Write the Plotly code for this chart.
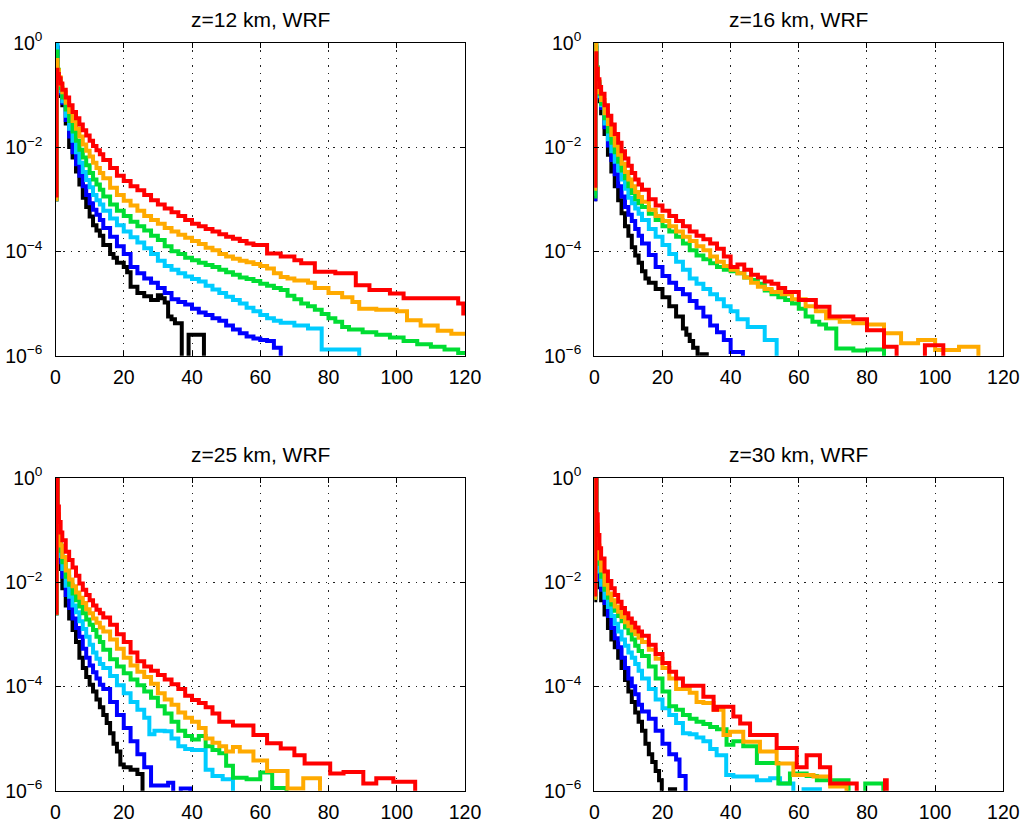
import plotly.graph_objects as go

# ---------------- data (x = left bin edge, value = log10 of probability; None = empty bin)
TITLES = ["z=12 km, WRF", "z=16 km, WRF", "z=25 km, WRF", "z=30 km, WRF"]
SERIES_NAMES = ["black", "blue", "cyan", "green", "orange", "red"]
SERIES_COLORS = ["#000000", "#0000FF", "#00CCFF", "#00DD33", "#FFAA00", "#FF0000"]
X_TICKS = [0, 20, 40, 60, 80, 100, 120]
Y_TICKS = [1e-6, 1e-4, 1e-2, 1]
Y_TICK_TEXT = ["10<sup>\u22126</sup>", "10<sup>\u22124</sup>", "10<sup>\u22122</sup>", "10<sup>0</sup>"]

# ---- z = 12 km
Z12_BLACK = [(-1, -3.0), (0.3, -0.1), (0.6, -0.6), (1, -0.8), (1.5, -1.02), (2, -1.2), (3, -1.55), (4, -2.0),
             (5, -2.2), (6, -2.47), (7, -2.72), (8, -2.97), (9, -3.15), (10, -3.33), (11, -3.5), (12, -3.6),
             (13, -3.7), (14, -3.88), (16, -4.05), (17, -4.12), (18, -4.22), (20, -4.3), (21, -4.4), (22, -4.68),
             (24, -4.8), (26, -4.86), (28, -4.93), (30, -4.84), (31, -4.9), (32, -4.98), (33, -5.25), (34, -5.3),
             (35, -5.38), (37, None), (39, -5.6), (43.5, None)]
Z12_BLUE = [(-1, -3.0), (0.3, -0.08), (0.6, -0.58), (1, -0.77), (1.5, -0.97), (2, -1.15), (3, -1.48), (4, -1.8),
            (5, -2.1), (6, -2.33), (7, -2.55), (8, -2.75), (9, -2.92), (10, -3.08), (11, -3.2), (12, -3.3),
            (13, -3.4), (14, -3.55), (16, -3.72), (18, -3.9), (20, -4.05), (22, -4.3), (24, -4.42), (26, -4.52),
            (28, -4.6), (30, -4.7), (32, -4.8), (34, -4.92), (36, -4.97), (38, -5.02), (40, -5.1), (42, -5.17),
            (44, -5.22), (46, -5.28), (48, -5.33), (50, -5.42), (52, -5.5), (54, -5.57), (56, -5.63), (58, -5.67),
            (60, -5.7), (62, -5.72), (64, -5.85), (66, None)]
Z12_CYAN = [(-1, -3.0), (0.3, -0.02), (0.6, -0.55), (1, -0.74), (1.5, -0.93), (2, -1.12), (3, -1.4), (4, -1.65),
            (5, -1.88), (6, -2.1), (7, -2.3), (8, -2.48), (9, -2.63), (10, -2.77), (11, -2.92), (12, -3.02),
            (13, -3.1), (14, -3.22), (16, -3.37), (18, -3.5), (20, -3.62), (22, -3.73), (24, -3.83), (26, -3.94),
            (28, -4.05), (30, -4.18), (32, -4.28), (34, -4.35), (36, -4.42), (38, -4.48), (40, -4.53), (42, -4.58),
            (44, -4.66), (46, -4.73), (48, -4.8), (50, -4.87), (52, -4.93), (54, -5.0), (56, -5.08), (58, -5.15),
            (60, -5.22), (62, -5.28), (64, -5.33), (66, -5.37), (70, -5.42), (74, -5.48), (78, -5.88), (89, None)]
Z12_GREEN = [(-1, -3.0), (0.3, -0.17), (0.6, -0.52), (1, -0.7), (1.5, -0.87), (2, -1.05), (3, -1.28), (4, -1.5),
             (5, -1.7), (6, -1.88), (7, -2.05), (8, -2.2), (9, -2.35), (10, -2.5), (11, -2.62), (12, -2.72),
             (13, -2.82), (14, -2.95), (16, -3.1), (18, -3.22), (20, -3.32), (22, -3.43), (24, -3.52), (26, -3.6),
             (28, -3.7), (30, -3.78), (32, -3.9), (34, -4.0), (36, -4.05), (38, -4.12), (40, -4.17), (42, -4.22),
             (44, -4.26), (46, -4.3), (48, -4.35), (50, -4.4), (52, -4.45), (54, -4.5), (56, -4.53), (58, -4.57),
             (60, -4.62), (62, -4.66), (64, -4.7), (66, -4.74), (68, -4.85), (70, -4.92), (72, -5.0), (74, -5.05),
             (76, -5.12), (78, -5.2), (80, -5.28), (82, -5.35), (84, -5.45), (86, -5.5), (90, -5.55), (94, -5.6),
             (98, -5.65), (102, -5.72), (106, -5.78), (110, -5.83), (114, -5.88), (118, -5.95), (122, -5.95)]
Z12_ORANGE = [(-1, -3.0), (0.3, -0.33), (0.6, -0.53), (1, -0.66), (1.5, -0.8), (2, -0.95), (3, -1.15), (4, -1.33),
              (5, -1.5), (6, -1.65), (7, -1.8), (8, -1.95), (9, -2.07), (10, -2.18), (11, -2.3), (12, -2.4),
              (13, -2.5), (14, -2.6), (16, -2.78), (18, -2.92), (20, -3.03), (22, -3.12), (24, -3.22), (26, -3.32),
              (28, -3.4), (30, -3.47), (32, -3.55), (34, -3.62), (36, -3.68), (38, -3.74), (40, -3.8), (42, -3.86),
              (44, -3.93), (46, -3.98), (48, -4.05), (50, -4.1), (52, -4.14), (54, -4.18), (56, -4.21), (58, -4.24),
              (60, -4.28), (62, -4.33), (64, -4.42), (66, -4.49), (68, -4.52), (70, -4.56), (74, -4.6), (76, -4.7),
              (80, -4.8), (84, -4.88), (87, -4.97), (89, -5.1), (94, -5.12), (100, -5.15), (103, -5.32),
              (107, -5.42), (112, -5.52), (116, -5.58), (122, -5.58)]
Z12_RED = [(-1, -2.93), (0.3, -0.52), (0.6, -0.6), (1, -0.68), (1.5, -0.78), (2, -0.9), (3, -1.05), (4, -1.2),
           (5, -1.33), (6, -1.45), (7, -1.57), (8, -1.68), (9, -1.78), (10, -1.88), (11, -1.98), (12, -2.06),
           (13, -2.14), (14, -2.25), (16, -2.4), (18, -2.55), (20, -2.65), (22, -2.75), (24, -2.83), (26, -2.92),
           (28, -3.02), (30, -3.1), (32, -3.18), (34, -3.25), (36, -3.32), (38, -3.4), (40, -3.47), (42, -3.52),
           (44, -3.57), (46, -3.62), (48, -3.67), (50, -3.72), (52, -3.76), (54, -3.8), (56, -3.85), (58, -3.88),
           (62, -4.04), (66, -4.1), (70, -4.17), (72, -4.23), (76, -4.39), (82, -4.42), (88, -4.65), (92, -4.74),
           (98, -4.81), (102, -4.9), (118, -5.0), (119.5, -5.19), (122, -5.19)]

# ---- z = 16 km
Z16_BLACK = [(-1, -3.0), (0.3, -0.1), (0.6, -0.55), (1, -0.85), (1.5, -1.12), (2, -1.35), (3, -1.75), (4, -2.15),
             (5, -2.47), (6, -2.75), (7, -3.02), (8, -3.27), (9, -3.52), (10, -3.7), (11, -3.92), (12, -4.08),
             (13, -4.22), (14, -4.38), (15, -4.52), (16, -4.6), (18, -4.72), (20, -4.88), (22, -5.05), (24, -5.25),
             (26, -5.48), (27, -5.6), (28, -5.72), (29, -5.85), (30.3, None), (31.5, -5.97), (33, None)]
Z16_BLUE = [(-1, -3.0), (0.3, -0.08), (0.6, -0.5), (1, -0.8), (1.5, -1.05), (2, -1.25), (3, -1.62), (4, -1.97),
            (5, -2.25), (6, -2.52), (7, -2.75), (8, -2.95), (9, -3.15), (10, -3.3), (11, -3.42), (12, -3.57),
            (13, -3.7), (14, -3.85), (16, -4.07), (18, -4.3), (20, -4.47), (22, -4.6), (24, -4.72), (26, -4.82),
            (28, -4.95), (30, -5.08), (32, -5.25), (34, -5.42), (36, -5.55), (38, -5.7), (40, -5.93), (43.6, None)]
Z16_CYAN = [(-1, -2.9), (0.3, -0.02), (0.6, -0.48), (1, -0.78), (1.5, -1.02), (2, -1.2), (3, -1.55), (4, -1.85),
            (5, -2.08), (6, -2.28), (7, -2.45), (8, -2.62), (9, -2.8), (10, -2.97), (11, -3.08), (12, -3.18),
            (13, -3.28), (14, -3.4), (16, -3.57), (18, -3.72), (20, -3.88), (22, -4.05), (24, -4.2), (26, -4.35),
            (28, -4.52), (30, -4.62), (32, -4.72), (34, -4.82), (36, -4.92), (38, -5.05), (40, -5.15), (42, -5.3),
            (45, -5.45), (50, -5.7), (53.5, None)]
Z16_GREEN = [(-1, -2.95), (0.3, -0.05), (0.6, -0.47), (1, -0.75), (1.5, -0.98), (2, -1.17), (3, -1.45), (4, -1.7),
             (5, -1.92), (6, -2.1), (7, -2.28), (8, -2.45), (9, -2.6), (10, -2.75), (11, -2.88), (12, -3.0),
             (13, -3.08), (14, -3.15), (16, -3.28), (18, -3.4), (20, -3.52), (22, -3.62), (24, -3.72), (26, -3.85),
             (28, -3.98), (30, -4.08), (32, -4.15), (34, -4.23), (36, -4.3), (38, -4.35), (40, -4.38), (42, -4.42),
             (44, -4.5), (46, -4.55), (48, -4.62), (50, -4.75), (52, -4.82), (54, -4.88), (56, -4.93), (58, -5.0),
             (60, -5.1), (62, -5.25), (64, -5.35), (66, -5.4), (68, -5.48), (71, -5.86), (76, -5.9), (80, -5.88),
             (85, None)]
Z16_ORANGE = [(-1, -2.8), (0.3, -0.03), (0.6, -0.5), (1, -0.75), (1.5, -0.95), (2, -1.1), (3, -1.35), (4, -1.56),
              (5, -1.77), (6, -1.97), (7, -2.15), (8, -2.32), (9, -2.48), (10, -2.62), (11, -2.75), (12, -2.86),
              (13, -2.96), (14, -3.05), (16, -3.2), (18, -3.32), (20, -3.42), (22, -3.52), (24, -3.62), (26, -3.72),
              (28, -3.8), (30, -3.9), (32, -3.98), (34, -4.1), (36, -4.2), (38, -4.28), (40, -4.35), (42, -4.42),
              (44, -4.5), (46, -4.6), (48, -4.68), (50, -4.72), (52, -4.78), (55, -4.82), (58, -4.92), (62, -5.05),
              (65, -5.15), (68, -5.28), (72, -5.35), (76, -5.38), (80, -5.4), (85, -5.57), (90, -5.76), (95, -5.7),
              (100, -5.89), (107, -5.83), (112.7, None)]
Z16_RED = [(-1, -2.74), (0.3, -0.2), (0.6, -0.5), (1, -0.7), (1.5, -0.85), (2, -0.98), (3, -1.2), (4, -1.4),
           (5, -1.57), (6, -1.75), (7, -1.92), (8, -2.08), (9, -2.22), (10, -2.36), (11, -2.5), (12, -2.62),
           (13, -2.72), (14, -2.82), (16, -3.0), (18, -3.12), (20, -3.22), (22, -3.32), (24, -3.42), (26, -3.52),
           (28, -3.62), (30, -3.7), (32, -3.77), (34, -3.85), (36, -3.95), (38, -4.1), (40, -4.3), (42, -4.25),
           (44, -4.35), (46, -4.45), (48, -4.5), (50, -4.58), (52, -4.62), (54, -4.7), (56, -4.78), (60, -4.93),
           (65, -5.06), (69, -5.25), (76, -5.3), (80, -5.51), (85, -5.83), (88.7, None), (97, -5.8), (102.4, None)]

# ---- z = 25 km
Z25_BLACK = [(-1, -2.6), (0.3, -0.05), (0.6, -0.9), (1, -1.45), (1.5, -1.75), (2, -2.12), (3, -2.45), (4, -2.7),
             (5, -2.92), (6, -3.15), (7, -3.45), (8, -3.65), (9, -3.82), (10, -3.97), (11, -4.1), (12, -4.25),
             (13, -4.4), (14, -4.55), (15, -4.7), (16, -4.9), (17, -5.1), (18, -5.25), (19, -5.5), (20, -5.55),
             (22, -5.6), (24, -5.68), (25.5, None)]
Z25_BLUE = [(-1, -2.6), (0.3, -0.05), (0.6, -0.85), (1, -1.35), (1.5, -1.62), (2, -1.9), (3, -2.25), (4, -2.5),
            (5, -2.7), (6, -2.88), (7, -3.05), (8, -3.28), (9, -3.45), (10, -3.6), (11, -3.73), (12, -3.85),
            (13, -3.97), (14, -4.05), (16, -4.3), (18, -4.55), (20, -4.8), (22, -5.05), (24, -5.3), (26, -5.55),
            (28, -5.9), (31, -5.9), (33, -5.85), (34.5, None), (36.7, -5.96), (39.5, None)]
Z25_CYAN = [(-1, -2.6), (0.3, -0.05), (0.6, -0.8), (1, -1.25), (1.5, -1.5), (2, -1.75), (3, -2.07), (4, -2.28),
            (5, -2.45), (6, -2.58), (7, -2.75), (8, -2.9), (9, -3.05), (10, -3.2), (11, -3.35), (12, -3.47),
            (13, -3.57), (14, -3.65), (16, -3.8), (18, -3.98), (20, -4.13), (22, -4.3), (24, -4.45), (26, -4.6),
            (27.5, -4.92), (29, -4.85), (32, -4.86), (34, -5.0), (36, -5.15), (38, -5.2), (40, -5.22), (44, -5.6),
            (46, -5.72), (49, -5.78), (52, None)]
Z25_GREEN = [(-1, -2.6), (0.3, -0.05), (0.6, -0.75), (1, -1.15), (1.5, -1.4), (2, -1.62), (3, -1.9), (4, -2.05),
             (5, -2.22), (6, -2.35), (7, -2.47), (8, -2.6), (9, -2.72), (10, -2.82), (11, -2.92), (12, -3.05),
             (13, -3.15), (14, -3.3), (16, -3.48), (18, -3.62), (20, -3.75), (22, -3.87), (24, -3.98), (26, -4.1),
             (28, -4.22), (30, -4.38), (32, -4.52), (34, -4.68), (36, -4.85), (38, -4.95), (40, -5.02), (42, -4.95),
             (44, -5.15), (46, -5.22), (48, -5.28), (50, -5.52), (52, -5.75), (56, -5.78), (60, -5.65),
             (63.5, -5.95), (67.7, None)]
Z25_ORANGE = [(-1, -2.6), (0.3, -0.05), (0.6, -0.7), (1, -1.05), (1.5, -1.3), (2, -1.52), (3, -1.78), (4, -1.95),
              (5, -2.08), (6, -2.2), (7, -2.3), (8, -2.4), (9, -2.52), (10, -2.6), (11, -2.7), (12, -2.78),
              (13, -2.87), (14, -2.95), (16, -3.1), (18, -3.28), (20, -3.45), (22, -3.6), (24, -3.72), (26, -3.82),
              (28, -3.95), (30, -4.13), (32, -4.25), (34, -4.35), (36, -4.5), (38, -4.6), (40, -4.68), (42, -4.8),
              (44, -5.0), (46, -5.08), (48, -5.15), (50, -5.25), (52, -5.16), (54, -5.25), (58, -5.42), (62, -5.62),
              (68, -5.96), (72.6, -5.76), (77.5, None)]
Z25_RED = [(-1, -2.59), (0.3, -0.02), (0.6, -0.55), (1, -0.85), (1.5, -1.05), (2, -1.2), (3, -1.42), (4, -1.58),
           (5, -1.72), (6, -1.88), (7, -2.03), (8, -2.15), (9, -2.25), (10, -2.35), (11, -2.45), (12, -2.53),
           (13, -2.6), (14, -2.68), (16, -2.82), (18, -3.0), (20, -3.15), (22, -3.35), (24, -3.52), (26, -3.62),
           (28, -3.7), (30, -3.78), (32, -3.87), (34, -3.96), (36, -4.05), (38, -4.18), (40, -4.26), (42, -4.32),
           (44, -4.4), (46, -4.52), (48, -4.68), (52, -4.75), (58, -4.93), (62, -5.09), (66, -5.19), (70, -5.32),
           (73, -5.48), (80.5, -5.67), (84.4, -5.64), (90.2, -5.86), (94, -5.76), (99, -5.83), (105.4, None)]

# ---- z = 30 km
Z30_BLACK = [(-1, -2.35), (0.3, -0.05), (0.6, -1.2), (1, -1.8), (1.5, -2.1), (2, -2.35), (3, -2.62), (4, -2.88),
             (5, -3.1), (6, -3.25), (7, -3.45), (8, -3.65), (9, -3.88), (10, -4.1), (11, -4.3), (12, -4.5),
             (13, -4.68), (14, -4.85), (15, -5.1), (16, -5.3), (17, -5.45), (18, -5.62), (19, -5.8), (19.8, None),
             (22.2, -5.97), (23.7, None)]
Z30_BLUE = [(-1, -2.3), (0.3, -0.05), (0.6, -1.1), (1, -1.65), (1.5, -1.95), (2, -2.15), (3, -2.4), (4, -2.65),
            (5, -2.88), (6, -3.08), (7, -3.25), (8, -3.45), (9, -3.65), (10, -3.85), (11, -4.0), (12, -4.15),
            (13, -4.35), (14, -4.48), (16, -4.62), (18, -4.85), (20, -5.1), (22, -5.3), (24, -5.4), (25, -5.72),
            (26.8, None)]
Z30_CYAN = [(-1, -2.3), (0.3, -0.05), (0.6, -1.0), (1, -1.5), (1.5, -1.8), (2, -2.05), (3, -2.3), (4, -2.48),
            (5, -2.65), (6, -2.8), (7, -2.95), (8, -3.1), (9, -3.22), (10, -3.35), (11, -3.45), (12, -3.57),
            (13, -3.7), (14, -3.85), (16, -4.05), (18, -4.25), (20, -4.42), (22, -4.55), (24, -4.7), (26, -4.9),
            (28, -4.92), (30, -4.98), (32, -5.05), (34, -5.2), (35.9, -5.32), (38.7, -5.7), (40.8, -5.73),
            (47.7, -5.8), (51.6, -5.76), (54.5, -5.86), (58.4, None), (61.4, -5.97), (66.2, None)]
Z30_GREEN = [(-1, -2.3), (0.3, -0.05), (0.6, -0.95), (1, -1.4), (1.5, -1.65), (2, -1.9), (3, -2.15), (4, -2.3),
             (5, -2.43), (6, -2.55), (7, -2.65), (8, -2.75), (9, -2.87), (10, -2.98), (11, -3.1), (12, -3.22),
             (13, -3.32), (14, -3.42), (16, -3.62), (18, -3.85), (20, -4.1), (22, -4.38), (24, -4.45), (26, -4.55),
             (28, -4.62), (30, -4.68), (32, -4.72), (34, -4.78), (36, -4.82), (38.8, -5.12), (40.8, -5.05),
             (43.7, -5.15), (47.7, -5.47), (54, -5.86), (57.4, -5.67), (62.3, -5.72), (65.3, -5.8), (74.6, None),
             (79.5, -5.86), (84.8, None)]
Z30_ORANGE = [(-1, -2.3), (0.3, -0.05), (0.6, -0.9), (1, -1.3), (1.5, -1.55), (2, -1.78), (3, -2.05), (4, -2.22),
              (5, -2.35), (6, -2.47), (7, -2.57), (8, -2.67), (9, -2.77), (10, -2.85), (11, -2.93), (12, -3.0),
              (13, -3.07), (14, -3.15), (16, -3.3), (18, -3.47), (20, -3.65), (22, -3.85), (24, -4.05), (26, -4.05),
              (28, -4.12), (30, -4.3), (32, -4.32), (35, -4.45), (37.9, -4.93), (39.8, -4.87), (43.7, -5.06),
              (48.6, -5.25), (53.5, -5.48), (58.4, -5.7), (64.3, -5.73), (69.2, -5.92), (74, None)]
Z30_RED = [(-1, -2.24), (0.3, -0.02), (0.6, -0.7), (1, -1.1), (1.5, -1.35), (2, -1.55), (3, -1.8), (4, -1.98),
           (5, -2.12), (6, -2.25), (7, -2.38), (8, -2.5), (9, -2.6), (10, -2.7), (11, -2.78), (12, -2.87),
           (13, -2.95), (14, -3.03), (16, -3.2), (18, -3.38), (20, -3.55), (22, -3.72), (24, -3.85), (26, -3.99),
           (32, -4.2), (35, -4.45), (36, -4.39), (40.8, -4.58), (42.8, -4.71), (45.7, -4.93), (53.5, -5.18),
           (59.4, -5.55), (62.3, -5.32), (66.2, -5.55), (69.2, -5.86), (77, None), (85.3, -5.8), (85.8, None)]

PANELS = [
    [Z12_BLACK, Z12_BLUE, Z12_CYAN, Z12_GREEN, Z12_ORANGE, Z12_RED],
    [Z16_BLACK, Z16_BLUE, Z16_CYAN, Z16_GREEN, Z16_ORANGE, Z16_RED],
    [Z25_BLACK, Z25_BLUE, Z25_CYAN, Z25_GREEN, Z25_ORANGE, Z25_RED],
    [Z30_BLACK, Z30_BLUE, Z30_CYAN, Z30_GREEN, Z30_ORANGE, Z30_RED],
]

EMPTY_FLOOR = 1e-9  # empty bins drop below the axis floor

# ---------------- layout geometry
W, H = 1026, 824
X_DOMAINS = [[55.5 / W, 465.0 / W], [594.3 / W, 1003.3 / W]]
Y_DOMAINS = [[1 - 355.7 / H, 1 - 42.7 / H], [1 - 790.7 / H, 1 - 477.7 / H]]

FONT = "Liberation Sans, Arial, Helvetica, sans-serif"

fig = go.Figure()
layout = dict(
    width=W, height=H,
    margin=dict(l=0, r=0, t=0, b=0, autoexpand=False),
    paper_bgcolor="white", plot_bgcolor="white",
    showlegend=False,
    font=dict(family=FONT, color="black"),
)
annotations = []

for i, panel in enumerate(PANELS):
    row, col = divmod(i, 2)
    idx = "" if i == 0 else str(i + 1)
    xa, ya = "x" + idx, "y" + idx
    for name, color, series in zip(SERIES_NAMES, SERIES_COLORS, panel):
        xs = [p[0] for p in series]
        ys = [EMPTY_FLOOR if p[1] is None else 10 ** p[1] for p in series]
        fig.add_trace(go.Scatter(
            x=xs, y=ys, mode="lines", name=name,
            line=dict(color=color, width=4, shape="hv"),
            xaxis=xa, yaxis=ya, hoverinfo="skip",
        ))
    axis_common = dict(
        automargin=False,
        showline=True, linecolor="black", linewidth=1.3, mirror="ticks",
        ticks="inside", ticklen=5, tickcolor="black", tickwidth=1,
        showgrid=True, gridcolor="#222222", gridwidth=1, griddash="1.5px,6px",
        zeroline=False, tickfont=dict(family=FONT, size=19.5, color="black"),
    )
    layout["xaxis" + idx] = dict(
        domain=X_DOMAINS[col], anchor=ya, range=[0, 120],
        tickvals=X_TICKS, ticktext=[str(t) for t in X_TICKS],
        ticklabelstandoff=4,
        **axis_common,
    )
    layout["yaxis" + idx] = dict(
        domain=Y_DOMAINS[row], anchor=xa, type="log", range=[-6, 0],
        tickvals=Y_TICKS, ticktext=Y_TICK_TEXT,
        ticklabelstandoff=8,
        **axis_common,
    )
    annotations.append(dict(
        text=TITLES[i], xref="paper", yref="paper",
        x=sum(X_DOMAINS[col]) / 2, y=Y_DOMAINS[row][1],
        xanchor="center", yanchor="bottom", yshift=10, showarrow=False,
        font=dict(family=FONT, size=21, color="black"),
    ))

layout["annotations"] = annotations
fig.update_layout(**layout)
fig.write_html("out.html")
